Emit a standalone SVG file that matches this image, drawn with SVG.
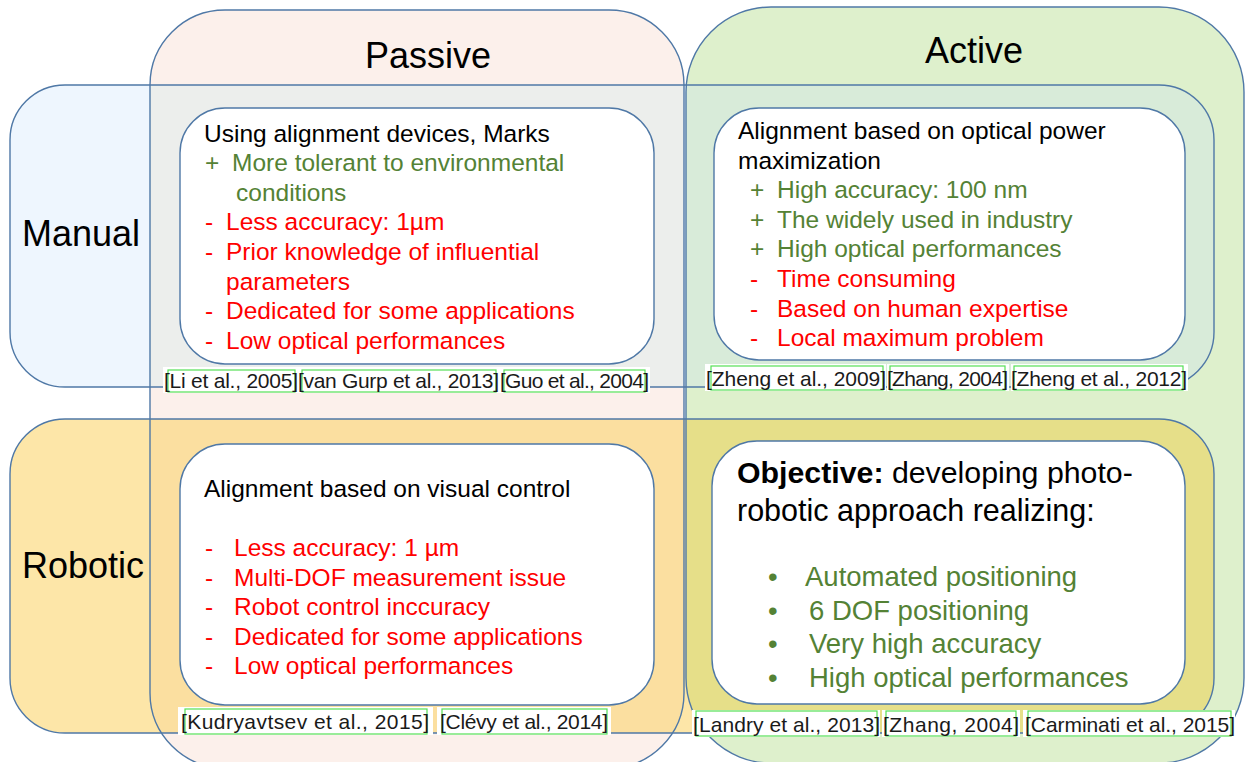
<svg xmlns="http://www.w3.org/2000/svg" width="1245" height="762" viewBox="0 0 1245 762">
<style>
text{font-family:"Liberation Sans",Arial,"DejaVu Sans",sans-serif}
.outline{fill:none;stroke:#4f78a6;stroke-width:1.4}
.box{fill:#ffffff;stroke:#4f78a6;stroke-width:1.4}
.title{font-size:36px;fill:#000}
.t{font-size:24.5px}
.k{fill:#000}
.g{fill:#548235}
.r{fill:#ff0000}
.cw{fill:#ffffff}
.cg{fill:none;stroke:#55e055;stroke-width:1.2}
.ct{font-size:21px;fill:#1a1a1a}
</style>
<defs>
<rect id="passiveShape" x="150" y="10" width="534" height="758" rx="75"/>
<rect id="activeShape" x="686" y="7" width="558" height="756" rx="85"/>
<rect id="manualShape" x="10" y="85" width="1204" height="302" rx="55"/>
<rect id="roboticShape" x="10" y="419" width="1204" height="314" rx="55"/>
<clipPath id="cpPassive"><use href="#passiveShape"/></clipPath>
<clipPath id="cpActive"><use href="#activeShape"/></clipPath>
</defs>
<rect x="0" y="0" width="1245" height="762" fill="#ffffff"/>
<g id="fills">
<use href="#passiveShape" fill="#fcf0eb"/>
<use href="#activeShape" fill="#def0cc"/>
<use href="#manualShape" fill="#eef6fe"/>
<use href="#roboticShape" fill="#fde6a8"/>
<use href="#manualShape" fill="#eceeec" clip-path="url(#cpPassive)"/>
<use href="#manualShape" fill="#d8ebd9" clip-path="url(#cpActive)"/>
<use href="#roboticShape" fill="#fbdfa0" clip-path="url(#cpPassive)"/>
<use href="#roboticShape" fill="#e6df89" clip-path="url(#cpActive)"/>
</g>
<g id="passive"><use href="#passiveShape" class="outline"/><text class="title" x="428" y="68" text-anchor="middle">Passive</text></g>
<g id="active"><use href="#activeShape" class="outline"/><text class="title" x="974" y="63" text-anchor="middle">Active</text></g>
<g id="manual"><use href="#manualShape" class="outline"/><text class="title" x="22" y="246">Manual</text></g>
<g id="robotic"><use href="#roboticShape" class="outline"/><text class="title" x="22" y="578">Robotic</text></g>

<g id="manual-passive">
<rect class="box" x="180" y="108" width="474" height="256" rx="45"/>
<text class="t k" x="204" y="141.5">Using alignment devices, Marks</text>
<text class="t g" x="205" y="171.1">+</text><text class="t g" x="232" y="171.1">More tolerant to environmental</text>
<text class="t g" x="236" y="200.7">conditions</text>
<text class="t r" x="205" y="230.3">-</text><text class="t r" x="226" y="230.3">Less accuracy: 1µm</text>
<text class="t r" x="205" y="259.9">-</text><text class="t r" x="226" y="259.9">Prior knowledge of influential</text>
<text class="t r" x="226" y="289.5">parameters</text>
<text class="t r" x="205" y="319.1">-</text><text class="t r" x="226" y="319.1">Dedicated for some applications</text>
<text class="t r" x="205" y="348.7">-</text><text class="t r" x="226" y="348.7">Low optical performances</text>
</g>

<g id="manual-active">
<rect class="box" x="714" y="108" width="471" height="252" rx="45"/>
<text class="t k" x="738" y="139">Alignment based on optical power</text>
<text class="t k" x="738" y="168.6">maximization</text>
<text class="t g" x="750" y="198.2">+</text><text class="t g" x="777" y="198.2">High accuracy: 100 nm</text>
<text class="t g" x="750" y="227.8">+</text><text class="t g" x="777" y="227.8">The widely used in industry</text>
<text class="t g" x="750" y="257.4">+</text><text class="t g" x="777" y="257.4">High optical performances</text>
<text class="t r" x="750" y="287">-</text><text class="t r" x="777" y="287">Time consuming</text>
<text class="t r" x="750" y="316.6">-</text><text class="t r" x="777" y="316.6">Based on human expertise</text>
<text class="t r" x="750" y="346.2">-</text><text class="t r" x="777" y="346.2">Local maximum problem</text>
</g>

<g id="robotic-passive">
<rect class="box" x="180" y="444" width="474" height="261" rx="45"/>
<text class="t k" x="204" y="497">Alignment based on visual control</text>
<text class="t r" x="205" y="556">-</text><text class="t r" x="234" y="556">Less accuracy: 1 µm</text>
<text class="t r" x="205" y="585.6">-</text><text class="t r" x="234" y="585.6">Multi-DOF measurement issue</text>
<text class="t r" x="205" y="615.2">-</text><text class="t r" x="234" y="615.2">Robot control inccuracy</text>
<text class="t r" x="205" y="644.8">-</text><text class="t r" x="234" y="644.8">Dedicated for some applications</text>
<text class="t r" x="205" y="674.4">-</text><text class="t r" x="234" y="674.4">Low optical performances</text>
</g>

<g id="robotic-active">
<rect class="box" x="712" y="441" width="473" height="263" rx="45"/>
<text x="737" y="483" style="font-size:30.3px" class="k"><tspan font-weight="bold">Objective:</tspan> developing photo-</text>
<text x="737" y="521" style="font-size:30.5px" class="k">robotic approach realizing:</text>
<text x="768" y="586" style="font-size:27.5px" class="g">•</text><text x="805" y="586" style="font-size:27.5px" class="g">Automated positioning</text>
<text x="768" y="619.5" style="font-size:27.5px" class="g">•</text><text x="809" y="619.5" style="font-size:27.5px" class="g">6 DOF positioning</text>
<text x="768" y="653" style="font-size:27.5px" class="g">•</text><text x="809" y="653" style="font-size:27.5px" class="g">Very high accuracy</text>
<text x="768" y="686.5" style="font-size:27.5px" class="g">•</text><text x="809" y="686.5" style="font-size:27.5px" class="g">High optical performances</text>
</g>

<g id="citations-manual-passive">
<rect class="cw" x="163" y="367" width="487" height="26"/>
<rect class="cg" x="168" y="370" width="127" height="22"/>
<rect class="cg" x="302" y="370" width="194" height="22"/>
<rect class="cg" x="504" y="370" width="141" height="22"/>
<text class="ct" x="164" y="388" textLength="134">[Li et al., 2005]</text>
<text class="ct" x="298" y="388" textLength="201">[van Gurp et al., 2013]</text>
<text class="ct" x="500" y="388" textLength="149">[Guo et al., 2004]</text>
</g>
<g id="citations-manual-active">
<rect class="cw" x="705" y="364" width="181" height="27"/>
<rect class="cw" x="887" y="364" width="122" height="27"/>
<rect class="cw" x="1011" y="364" width="177" height="27"/>
<rect class="cg" x="711" y="366" width="172" height="24"/>
<rect class="cg" x="890" y="366" width="115" height="24"/>
<rect class="cg" x="1014" y="366" width="169" height="24"/>
<text class="ct" x="706" y="386" textLength="180">[Zheng et al., 2009]</text>
<text class="ct" x="887" y="386" textLength="121">[Zhang, 2004]</text>
<text class="ct" x="1011" y="386" textLength="176">[Zheng et al., 2012]</text>
</g>
<g id="citations-robotic-passive">
<rect class="cw" x="178" y="707" width="255" height="28"/>
<rect class="cw" x="437" y="707" width="174" height="28"/>
<rect class="cg" x="185" y="709" width="242" height="25"/>
<rect class="cg" x="442" y="709" width="165" height="25"/>
<text class="ct" x="181" y="729" textLength="248">[Kudryavtsev et al., 2015]</text>
<text class="ct" x="440" y="729" textLength="168">[Clévy et al., 2014]</text>
</g>
<g id="citations-robotic-active">
<rect class="cw" x="692" y="710" width="188" height="27"/>
<rect class="cw" x="882" y="710" width="138" height="27"/>
<rect class="cw" x="1023" y="710" width="212" height="27"/>
<rect class="cg" x="696" y="711" width="181" height="25"/>
<rect class="cg" x="886" y="711" width="130" height="25"/>
<rect class="cg" x="1028" y="711" width="203" height="25"/>
<text class="ct" x="693" y="732" textLength="187">[Landry et al., 2013]</text>
<text class="ct" x="883" y="732" textLength="136">[Zhang, 2004]</text>
<text class="ct" x="1025" y="732" textLength="210">[Carminati et al., 2015]</text>
</g>
</svg>
